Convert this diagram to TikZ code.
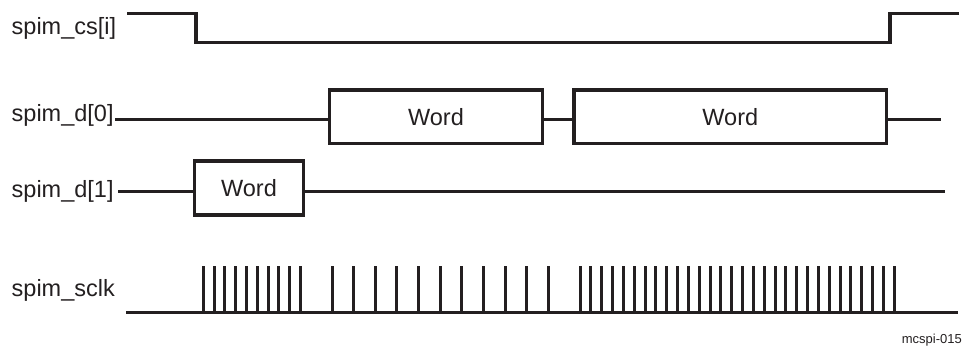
\documentclass[tikz,border=0pt]{standalone}
\usepackage{fontspec}
\setmainfont{Liberation Sans}
\definecolor{ink}{HTML}{231F20}
\begin{document}
\begin{tikzpicture}[x=1pt,y=-1pt,
  sig/.style={draw=ink,line width=3.2pt,line join=miter},
  lbl/.style={anchor=base west,inner sep=0pt,text=ink,font=\fontsize{23.5}{28}\selectfont},
  wordbox/.style={draw=ink,line width=3.2pt,inner sep=0pt,text=ink,minimum height=53.3pt,font=\fontsize{23.5}{28}\selectfont},
  pulse/.style={draw=ink,line width=3pt}]
\useasboundingbox (0,0) rectangle (965,347);
% labels
\node[lbl] (lcs) at (11.5,35) {spim\_cs[i]};
\node[lbl] (ld0) at (11.5,121.5) {spim\_d[0]};
\node[lbl] (ld1) at (11.5,198) {spim\_d[1]};
\node[lbl] (lclk) at (11.5,296.5) {spim\_sclk};
% chip select
\coordinate (cs0) at (127,13.3);
\coordinate (cs1) at (196,42.7);
\coordinate (cs2) at (890,42.7);
\coordinate (cs3) at (959,13.3);
\draw[sig] (cs0) -| (cs1) -- (cs2) |- (cs3);
% spim_d[0]
\node[wordbox,minimum width=213.4pt] (w1) at (436,116.7) {Word};
\node[wordbox,minimum width=312.7pt] (w2) at (730.3,116.7) {Word};
\coordinate (d0a) at (115,119.5);
\coordinate (d0f) at (941,119.5);
\draw[sig] (d0a) -- (d0a -| w1.west);
\draw[sig] (d0a -| w1.east) -- (d0a -| w2.west);
\draw[sig] (d0a -| w2.east) -- (d0f);
% spim_d[1]
\node[wordbox,minimum width=108.3pt,minimum height=54pt] (w3) at (249,188) {Word};
\coordinate (d1a) at (118,191.7);
\coordinate (d1d) at (945,191.7);
\draw[sig] (d1a) -- (d1a -| w3.west);
\draw[sig] (d1a -| w3.east) -- (d1d);
% clock
\coordinate (ck0) at (126,312.7);
\coordinate (ck1) at (958,312.7);
\draw[sig] (ck0) -- (ck1);
\foreach \i in {0,...,9} {\draw[pulse] (203.3+10.8*\i,312.7) -- (203.3+10.8*\i,266);}
\foreach \i in {0,...,10} {\draw[pulse] (332+21.63*\i,312.7) -- (332+21.63*\i,266);}
\foreach \i in {0,...,29} {\draw[pulse] (580+10.838*\i,312.7) -- (580+10.838*\i,266);}
% figure id
\node[anchor=base east,inner sep=0pt,text=ink,font=\fontsize{13}{15}\selectfont] (fid) at (962,343.5) {mcspi-015};
\end{tikzpicture}
\end{document}
